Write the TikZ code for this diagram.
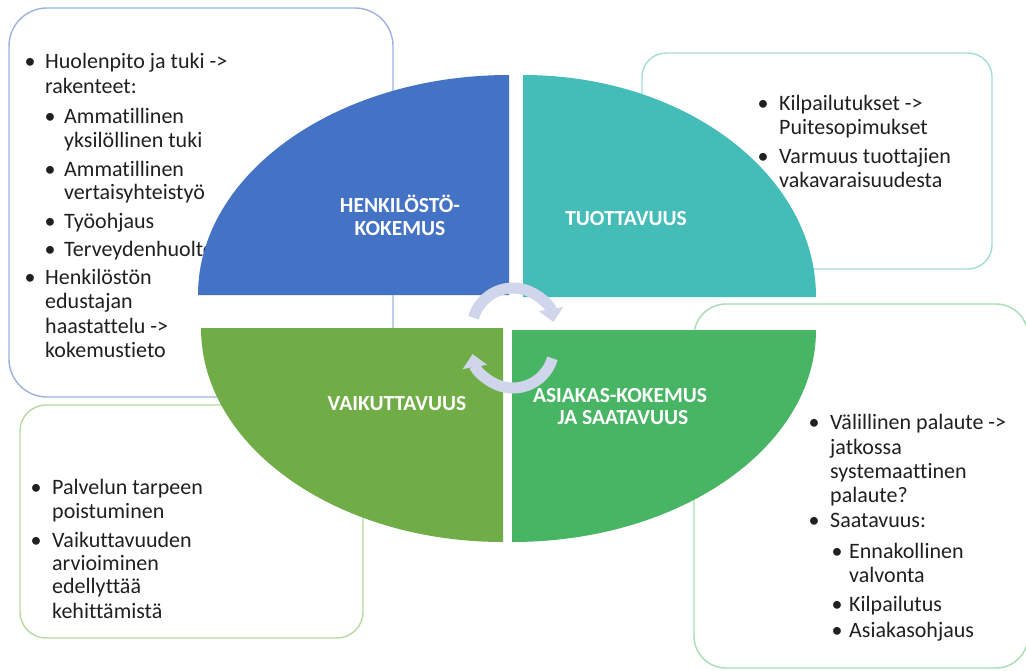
\documentclass[tikz,border=0pt]{standalone}
\usepackage{fontspec}
\setmainfont{Carlito}[Ligatures={NoCommon,NoDiscretionary,NoRare}]
\usetikzlibrary{arrows.meta}
\definecolor{qblue}{HTML}{4472C4}
\definecolor{qteal}{HTML}{44BCB7}
\definecolor{qgreenL}{HTML}{70AD47}
\definecolor{qgreenR}{HTML}{48B564}
\definecolor{cyccol}{HTML}{CFD5EA}
\definecolor{bTL}{HTML}{9BB3E0}
\definecolor{bTR}{HTML}{A3DDD9}
\definecolor{bBR}{HTML}{A8DDB5}
\definecolor{bBL}{HTML}{B7D9A0}
\definecolor{txtcol}{HTML}{202020}
\begin{document}
\begin{tikzpicture}[x=1pt,y=-1pt,
  txt/.style={inner sep=0pt,anchor=base west,text=txtcol,font=\fontsize{22}{24}\selectfont},
  bul/.style={inner sep=0pt,anchor=base,text=txtcol,font=\fontsize{22}{24}\selectfont},
  lab/.style={inner sep=0pt,anchor=base,text=white,font=\fontsize{21.5}{23}\selectfont\bfseries},
  infobox/.style={line width=1.4pt,fill=white},
  cyc/.style={draw=cyccol,line width=11pt,-{Triangle[width=24pt,length=13pt]}}]
\clip (0,0) rectangle (1026,670);
\fill[white] (0,0) rectangle (1026,670);

% ---- info boxes (behind) ----
\draw[infobox,draw=bTL,rounded corners=38pt] (9,8) rectangle (393,397);
\draw[infobox,draw=bTR,rounded corners=24pt] (642,53) rectangle (992,269);
\draw[infobox,draw=bBR,rounded corners=32pt] (694,304) rectangle (1028,668);
\draw[infobox,draw=bBL,rounded corners=26pt] (20,405) rectangle (363,638);

% ---- top-left text ----
\node[bul] (tlb1) at (30,68) {•};
\node[txt] (tl1) at (45,68) {Huolenpito ja tuki ->};
\node[txt] (tl2) at (45,93) {rakenteet:};
\node[bul] (tlb2) at (50,123) {•};
\node[txt] (tl3) at (64,123) {Ammatillinen};
\node[txt] (tl4) at (64,147) {yksilöllinen tuki};
\node[bul] (tlb3) at (50,176) {•};
\node[txt] (tl5) at (64,176) {Ammatillinen};
\node[txt] (tl6) at (64,199) {vertaisyhteistyö};
\node[bul] (tlb4) at (50,228) {•};
\node[txt] (tl7) at (64,228) {Työohjaus};
\node[bul] (tlb5) at (50,256) {•};
\node[txt] (tl8) at (64,256) {Terveydenhuolto};
\node[bul] (tlb6) at (30,284) {•};
\node[txt] (tl9) at (45,284) {Henkilöstön};
\node[txt] (tl10) at (45,308) {edustajan};
\node[txt] (tl11) at (45,333) {haastattelu ->};
\node[txt] (tl12) at (45,357) {kokemustieto};

% ---- top-right text ----
\node[bul] (trb1) at (763,110) {•};
\node[txt] (tr1) at (779,110) {Kilpailutukset ->};
\node[txt] (tr2) at (779,134) {Puitesopimukset};
\node[bul] (trb2) at (763,163) {•};
\node[txt] (tr3) at (779,163) {Varmuus tuottajien};
\node[txt] (tr4) at (779,187) {vakavaraisuudesta};

% ---- bottom-right text ----
\node[bul] (brb1) at (814,429) {•};
\node[txt] (br1) at (830,429) {Välillinen palaute ->};
\node[txt] (br2) at (830,454) {jatkossa};
\node[txt] (br3) at (830,478) {systemaattinen};
\node[txt] (br4) at (830,502) {palaute?};
\node[bul] (brb2) at (814,527) {•};
\node[txt] (br5) at (830,527) {Saatavuus:};
\node[bul] (brb3) at (837,558) {•};
\node[txt] (br6) at (849,558) {Ennakollinen};
\node[txt] (br7) at (849,582) {valvonta};
\node[bul] (brb4) at (837,611) {•};
\node[txt] (br8) at (849,611) {Kilpailutus};
\node[bul] (brb5) at (837,637) {•};
\node[txt] (br9) at (849,637) {Asiakasohjaus};

% ---- bottom-left text ----
\node[bul] (blb1) at (36,494) {•};
\node[txt] (bl1) at (52,494) {Palvelun tarpeen};
\node[txt] (bl2) at (52,518) {poistuminen};
\node[bul] (blb2) at (36,547) {•};
\node[txt] (bl3) at (52,547) {Vaikuttavuuden};
\node[txt] (bl4) at (52,570) {arvioiminen};
\node[txt] (bl5) at (52,593) {edellyttää};
\node[txt] (bl6) at (52,618) {kehittämistä};

% ---- quadrants ----
\fill[qblue] (509,295) -- (198,295) arc[start angle=180,end angle=270,x radius=311,y radius=220] -- cycle;
\fill[qteal] (523,297) -- (523,75) arc[start angle=270,end angle=360,x radius=293,y radius=222] -- cycle;
\fill[qgreenL] (503,328) -- (201,328) arc[start angle=180,end angle=90,x radius=302,y radius=214] -- cycle;
\fill[qgreenR] (512,330) -- (816,330) arc[start angle=0,end angle=90,x radius=304,y radius=212] -- cycle;

% ---- quadrant labels ----
\node[lab] (l1a) at (400,212) {HENKILÖSTÖ-};
\node[lab] (l1b) at (400,235) {KOKEMUS};
\node[lab] (l2) at (626,225) {TUOTTAVUUS};
\node[lab] (l3) at (397,410) {VAIKUTTAVUUS};
\node[lab] (l4a) at (620,402) {ASIAKAS-KOKEMUS};
\node[lab] (l4b) at (623,424) {JA SAATAVUUS};

% ---- cycle arrows ----
\coordinate (c1) at (513,329);
\coordinate (c2) at (513,347);
\draw[cyc] ([shift={(196:41)}]c1) arc[start angle=196,end angle=350,radius=41];
\draw[cyc] ([shift={(16:41)}]c2) arc[start angle=16,end angle=170,radius=41];
\end{tikzpicture}
\end{document}
